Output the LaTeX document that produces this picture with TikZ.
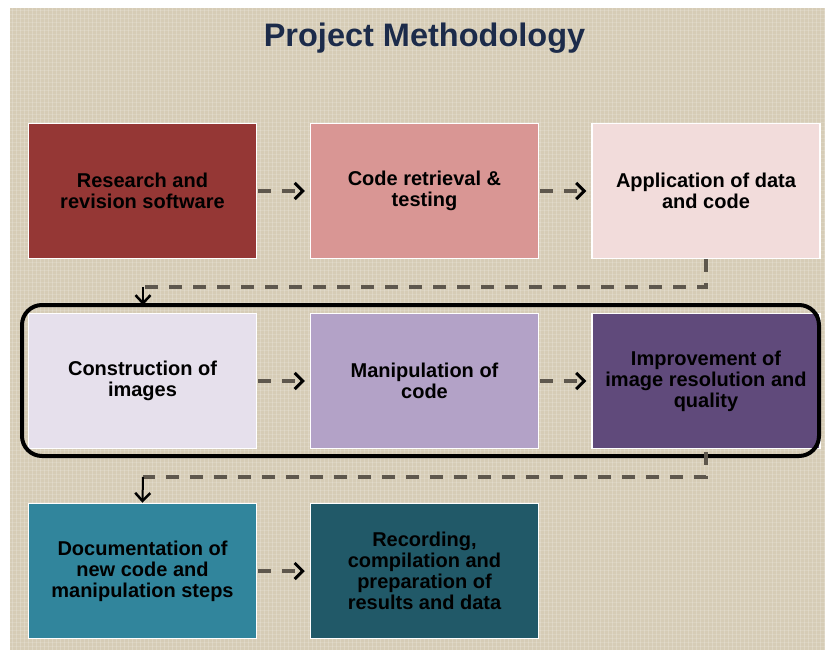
\documentclass[tikz,border=0pt]{standalone}
\usepackage{fontspec}
\setmainfont{Liberation Sans}
\usetikzlibrary{arrows.meta}

\definecolor{paper}{HTML}{D6CCB6}
\definecolor{titleblue}{HTML}{1C2B4A}
\definecolor{linkgray}{HTML}{5E574D}
\definecolor{boxA}{HTML}{953735}
\definecolor{boxB}{HTML}{D99694}
\definecolor{boxC}{HTML}{F2DCDB}
\definecolor{boxD}{HTML}{E6E0EC}
\definecolor{boxE}{HTML}{B3A2C7}
\definecolor{boxF}{HTML}{604A7B}
\definecolor{boxG}{HTML}{31859C}
\definecolor{boxH}{HTML}{215968}

\begin{document}
\begin{tikzpicture}[x=1pt,y=-1pt,
        box/.style={draw=white, line width=1.5pt, minimum width=228pt, minimum height=135pt, inner sep=0pt, align=center, text=black, font=\fontsize{20}{21}\selectfont\bfseries},
        link/.style={linkgray, line width=3.5pt, dash pattern=on 13pt off 11pt},
        flow/.style={link, -{Straight Barb[black, length=8pt, width=16pt, line width=3pt]}, shorten <=1pt, shorten >=5pt},
        drop/.style={black, line width=2pt, -{Straight Barb[length=8pt, width=15pt, line width=2.5pt]}},
        frame/.style={black, line width=4pt, rounded corners=20pt},
        title/.style={anchor=base, text=titleblue, font=\fontsize{32.5}{34}\selectfont\bfseries}]
        \def\colA{142.5}
        \def\colB{424.5}
        \def\colC{706}
        \useasboundingbox (0,0) rectangle (825,650);

        %Paper
        \fill[paper] (10,8) rectangle (825,650);
        \foreach \x in {12,16,...,824}{
            \draw[white, opacity=0.18, line width=0.7pt] (\x,8) -- (\x,650);
        }
        \foreach \y in {10,14,...,648}{
            \draw[white, opacity=0.14, line width=0.7pt] (10,\y) -- (825,\y);
        }
        \node[title] (head) at (424.5,47) {Project Methodology};

        %Boxes
        \node[box, fill=boxA] (research) at (\colA,191) {Research and\\revision software};
        \node[box, fill=boxB] (retrieval) at (\colB,191) {Code retrieval \&\\testing};
        \node[box, fill=boxC] (apply) at (\colC,191) {Application of data\\and code};
        \node[box, fill=boxD] (construct) at (\colA,381) {Construction of\\images};
        \node[box, fill=boxE] (manip) at (\colB,381) {Manipulation of\\code};
        \node[box, fill=boxF] (improve) at (\colC,381) {Improvement of\\image resolution and\\quality};
        \node[box, fill=boxG] (docu) at (\colA,571) {Documentation of\\new code and\\manipulation steps};
        \node[box, fill=boxH] (record) at (\colB,571) {Recording,\\compilation and\\preparation of\\results and data};

        %Frame
        \draw[frame] (22,305) rectangle (819,456);
        \coordinate (ftop) at (0,305);

        %Arrows
        \draw[flow] (research) -- (retrieval);
        \draw[flow] (retrieval) -- (apply);
        \draw[flow] (construct) -- (manip);
        \draw[flow] (manip) -- (improve);
        \draw[flow] (docu) -- (record);

        %Row changes
        \coordinate (k1) at (143,287);
        \coordinate (k2) at (143,477);
        \draw[link] (apply.south) |- (k1);
        \draw[drop] (k1) -- (k1 |- ftop);
        \draw[link] (improve.south) ++(0,3) |- (k2);
        \draw[drop] (k2) -- (docu.north);
    \end{tikzpicture}
\end{document}
